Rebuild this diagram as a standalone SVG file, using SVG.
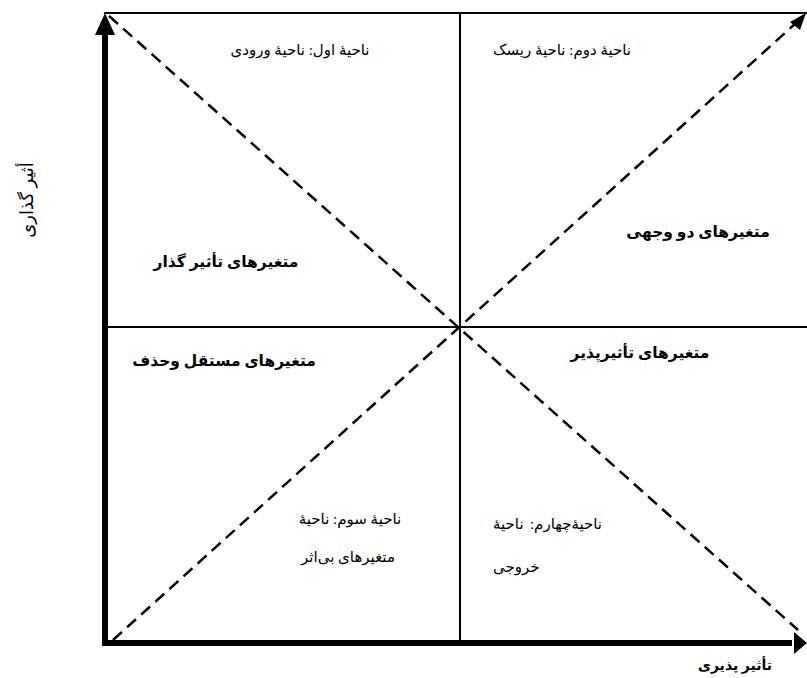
<svg xmlns="http://www.w3.org/2000/svg" width="807" height="678" viewBox="0 0 807 678">
<style>
.t{font-family:"Liberation Serif","DejaVu Sans",serif;font-size:15px;fill:#000;direction:rtl;unicode-bidi:embed}
.b{font-family:"Liberation Serif","DejaVu Sans",serif;font-size:15.5px;font-weight:bold;fill:#000;direction:rtl;unicode-bidi:embed}
.thin{stroke:#000;stroke-width:2;fill:none}
.dash{stroke:#000;stroke-width:2.5;stroke-dasharray:12 7;fill:none}
.axis{stroke:#000;stroke-width:6;fill:none}
</style>
<rect width="807" height="678" fill="#fff"/>
<g id="connectors">
<line class="thin" x1="104" y1="13" x2="807" y2="13"/>
<line class="thin" x1="460" y1="13" x2="460" y2="643"/>
<line class="thin" x1="104" y1="327" x2="807" y2="327"/>
<line class="dash" x1="109" y1="16" x2="798" y2="630"/>
<line class="dash" x1="113" y1="640" x2="796" y2="23"/>
<path d="M790,22 L806,13 L800,30 Z" fill="#000"/>
<line class="axis" x1="105" y1="646" x2="105" y2="30"/>
<path d="M95,35 L105,13 L115,35 Z" fill="#000"/>
<line class="axis" x1="102" y1="643" x2="792" y2="643"/>
<path d="M794,632 L807,643 L794,654 Z" fill="#000"/>
</g>
<g id="q1"><text class="t" x="300" y="55" text-anchor="middle">ناحیۀ اول: ناحیۀ ورودی</text></g>
<g id="q2"><text class="t" x="562" y="55" text-anchor="middle">ناحیۀ دوم: ناحیۀ ریسک</text></g>
<g id="bi"><text class="b" x="698" y="237" text-anchor="middle">متغیرهای دو وجهی</text></g>
<g id="infl"><text class="b" x="226" y="267" text-anchor="middle">متغیرهای تأثیر گذار</text></g>
<g id="dep"><text class="b" x="640" y="358" text-anchor="middle">متغیرهای تأثیرپذیر</text></g>
<g id="ind"><text class="b" x="224" y="366" text-anchor="middle">متغیرهای مستقل وحذف</text></g>
<g id="q3">
<text class="t" x="350" y="524" text-anchor="middle">ناحیۀ سوم: ناحیۀ</text>
<text class="t" x="348" y="562" text-anchor="middle">متغیرهای بی‌اثر</text>
</g>
<g id="q4">
<text class="t" x="602" y="529" text-anchor="start">ناحیۀچهارم:</text>
<text class="t" x="493" y="529" text-anchor="end">ناحیۀ</text>
<text class="t" x="493" y="572" text-anchor="end">خروجی</text>
</g>
<g id="ylabel"><text class="t" x="0" y="0" text-anchor="middle" style="font-size:18px" transform="translate(33,200) rotate(-90)">أثیر گذاری</text></g>
<g id="xlabel"><text class="b" x="735" y="670" text-anchor="middle" style="font-size:14px">تأثیر پذیری</text></g>
</svg>
